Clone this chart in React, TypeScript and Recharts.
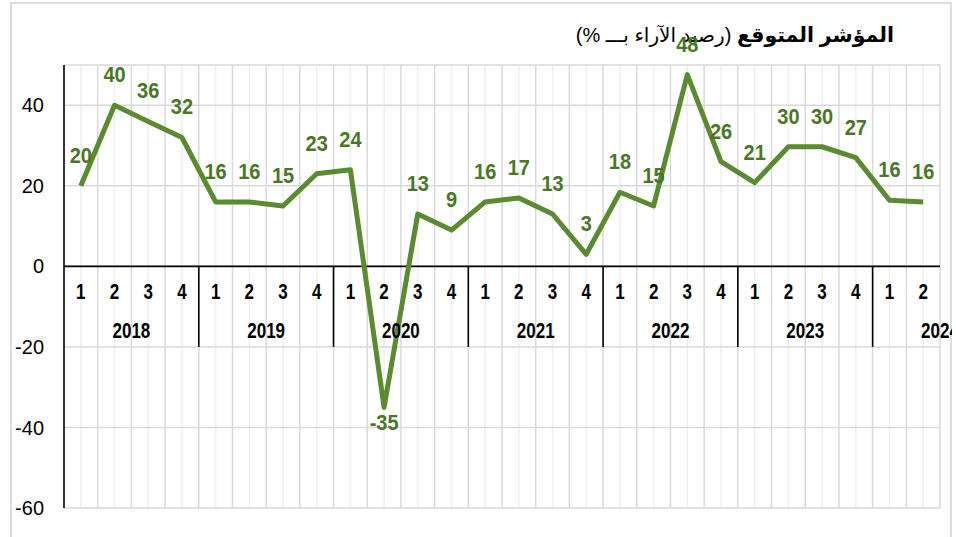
import React from 'react';
import { LineChart, Line, XAxis, YAxis, CartesianGrid, ReferenceLine, LabelList } from 'recharts';

// quarterly expected-indicator balance (%), 2018 Q1 .. 2024 Q2
const years = ['2018', '2019', '2020', '2021', '2022', '2023', '2024'];
const quarters = ['1', '2', '3', '4'];
const values = [20, 40, 36, 32, 16, 16, 15, 23, 24, -35, 13, 9, 16, 17, 13, 3, 18.4, 15, 47.6, 26, 20.8, 29.7, 29.7, 27, 16.4, 16];
const yTicks = [-60, -40, -20, 0, 20, 40];

const data = values.map((v, i) => ({
    key: `${years[Math.floor(i / 4)]}-${quarters[i % 4]}`,
    year: years[Math.floor(i / 4)],
    quarter: quarters[i % 4],
    value: v,
}));

const W = 956;
const H = 537;
const MARGIN = { top: 65, right: 16, bottom: 28, left: 0 };
const Y_AXIS_W = 64;
const PLOT_W = W - MARGIN.left - MARGIN.right - Y_AXIS_W;
const PLOT_H = H - MARGIN.top - MARGIN.bottom - 1;
const BAND = PLOT_W / values.length;
const Y_MIN = -60;
const Y_MAX = 50;
const yOf = (v: number) => MARGIN.top + ((Y_MAX - v) / (Y_MAX - Y_MIN)) * PLOT_H;

const LINE_COLOR = '#5b8b31';
const LABEL_COLOR = '#4b7628';

const QuarterTick = (props: any) => {
    const { x, index } = props;
    const row = data[index];
    if (!row) return null;
    const zeroY = yOf(0);
    const startQ = index % 4 === 0;
    const left = x - BAND / 2;
    return (
        <g>
            {index === 0 && (
                <defs>
                    <clipPath id="frame-clip">
                        <rect x={MARGIN.left + Y_AXIS_W} y={0} width={W - 4 - MARGIN.left - Y_AXIS_W} height={H} />
                    </clipPath>
                </defs>
            )}
            <text
                transform={`translate(${x}, ${zeroY + 33}) scale(1, 1.3)`}
                textAnchor="middle"
                fontSize={17}
                fontWeight="bold"
                fill="#000"
            >
                {row.quarter}
            </text>
            {startQ && index > 0 && (
                <line x1={left} x2={left} y1={zeroY} y2={yOf(-20)} stroke="#000" strokeWidth={1.6} />
            )}
            {startQ && (
                <g clipPath="url(#frame-clip)">
                    <text
                        transform={`translate(${left + 2 * BAND}, ${zeroY + 72}) scale(1, 1.3)`}
                        textAnchor="middle"
                        fontSize={17}
                        fontWeight="bold"
                        fill="#000"
                    >
                        {row.year}
                    </text>
                </g>
            )}
        </g>
    );
};

const ValueLabel = (props: any) => {
    const { x, y, value } = props;
    if (x == null || y == null) return null;
    const below = value < 0;
    const ty = below ? y + 23 : y - 23;
    return (
        <text
            transform={`translate(${x}, ${ty}) scale(1, 1.12)`}
            textAnchor="middle"
            fontSize={20}
            fontWeight="bold"
            fill={LABEL_COLOR}
        >
            {Math.round(value)}
        </text>
    );
};

const boundaries = ({ offset }: any) => {
    const left = offset?.left ?? MARGIN.left + Y_AXIS_W;
    const width = offset?.width ?? PLOT_W;
    const step = width / values.length;
    return values.map((_, i) => left + (i + 1) * step);
};

const centers = ({ offset }: any) => {
    const left = offset?.left ?? MARGIN.left + Y_AXIS_W;
    const width = offset?.width ?? PLOT_W;
    const step = width / values.length;
    return values.map((_, i) => left + (i + 0.5) * step);
};

export default function App() {
    return (
        <div
            style={{
                position: 'absolute',
                left: 0,
                top: 0,
                width: W,
                height: H,
                background: '#fff',
                overflow: 'hidden',
                fontFamily: "Arial, 'Liberation Sans', 'DejaVu Sans', sans-serif",
            }}
        >
            <div
                style={{
                    position: 'absolute',
                    left: 10,
                    top: 2,
                    width: 942,
                    height: 560,
                    border: '2px solid #dcdcdc',
                    boxSizing: 'border-box',
                }}
            />
            <div
                style={{
                    position: 'absolute',
                    right: 62,
                    top: 21,
                    direction: 'rtl',
                    whiteSpace: 'nowrap',
                    lineHeight: '28px',
                    color: '#000',
                }}
            >
                <span style={{ fontWeight: 'bold', fontSize: 20.5 }}>المؤشر المتوقع</span>
                <span style={{ fontSize: 20 }}> (رصيد الآراء بـــ %)</span>
            </div>
            <div style={{ position: 'absolute', left: 0, top: 0 }}>
                <LineChart width={W} height={H} data={data} margin={MARGIN}>
                    <CartesianGrid horizontal={false} stroke="#efefef" strokeWidth={1.5} verticalCoordinatesGenerator={centers} />
                    <CartesianGrid stroke="#d9d9d9" strokeWidth={1.5} verticalCoordinatesGenerator={boundaries} />
                    <XAxis
                        dataKey="key"
                        scale="point"
                        padding={{ left: BAND / 2, right: BAND / 2 }}
                        height={1}
                        axisLine={false}
                        tickLine={false}
                        interval={0}
                        tick={<QuarterTick />}
                    />
                    <YAxis
                        domain={[Y_MIN, Y_MAX]}
                        ticks={yTicks}
                        interval={0}
                        width={Y_AXIS_W}
                        axisLine={{ stroke: '#000', strokeWidth: 1.6 }}
                        tickLine={false}
                        tickMargin={14}
                        tick={{ fontSize: 20, fill: '#000' }}
                    />
                    <ReferenceLine y={0} stroke="#000" strokeWidth={1.6} />
                    <Line
                        type="linear"
                        dataKey="value"
                        stroke={LINE_COLOR}
                        strokeWidth={5}
                        strokeLinejoin="round"
                        dot={false}
                        isAnimationActive={false}
                    >
                        <LabelList dataKey="value" content={<ValueLabel />} />
                    </Line>
                </LineChart>
            </div>
        </div>
    );
}
